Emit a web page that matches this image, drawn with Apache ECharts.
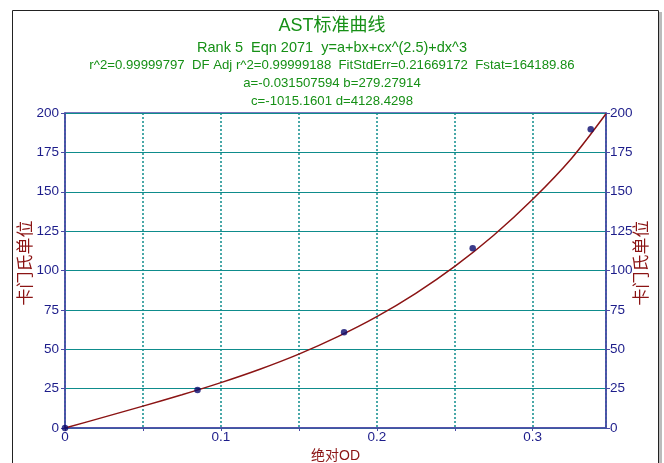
<!DOCTYPE html>
<html><head><meta charset="utf-8">
<script src="https://cdn.jsdelivr.net/npm/echarts@6/dist/echarts.min.js"></script>
<style>html,body{margin:0;padding:0;background:#fff}#c{width:664px;height:463px}</style>
</head><body><div id="c"></div>
<script>
// Measured standard points (absolute OD, Karmen units)
const pointX = [0, 0.085, 0.179, 0.2615, 0.3372];
const pointY = [0, 24.1, 60.8, 114.1, 189.7];
// Fitted curve
const curveX = [0, 0.025, 0.05, 0.075, 0.1, 0.125, 0.15, 0.175, 0.2, 0.225, 0.25, 0.275, 0.3, 0.325, 0.347];
const curveY = [0, 6.9, 13.9, 21.1, 28.8, 37.3, 46.9, 58.0, 70.7, 85.5, 102.6, 122.4, 145.2, 171.3, 199.5];
const titleLines = [
  'AST标准曲线',
  'Rank 5  Eqn 2071  y=a+bx+cx^(2.5)+dx^3',
  'r^2=0.99999797  DF Adj r^2=0.99999188  FitStdErr=0.21669172  Fstat=164189.86',
  'a=-0.031507594 b=279.27914',
  'c=-1015.1601 d=4128.4298'
];
const xTickLabels = ['0', '0.1', '0.2', '0.3'];
const yTicks = [0, 25, 50, 75, 100, 125, 150, 175, 200];
const xName = '绝对OD';
const yName = '卡门氏单位';

const FF = '"Liberation Sans", Arial, "Noto Sans CJK SC", sans-serif';
const green = '#169016';
const navy = '#1c1c8a';
const axisCol = '#4a4aa6';
const red = '#8b1414';
const teal = '#0e8c8c';

const chart = echarts.init(document.getElementById('c'));
const titleSizes = [18, 14.5, 13.2, 13.2, 13.2];
const titleCenters = [26, 48, 65.3, 83.7, 101.2];
const yAxisCommon = {
  type: 'value', min: 0, max: 200, interval: 25,
  axisLine: {show: true, lineStyle: {color: axisCol, width: 1.5}},
  axisTick: {show: true, length: 4, lineStyle: {color: axisCol}},
};
const yNameStyle = {text: yName, fill: red, fontSize: 17, fontFamily: FF, align: 'center', verticalAlign: 'middle'};
chart.setOption({
  animation: false,
  title: titleLines.map((t, i) => ({
    text: t, left: 'center', top: titleCenters[i] - titleSizes[i] * 0.49, padding: 0,
    textStyle: {color: green, fontSize: titleSizes[i], fontWeight: 'normal', fontFamily: FF}
  })),
  graphic: [
    {type: 'rect', shape: {x: 12.5, y: 10.5, width: 646, height: 470}, style: {fill: null, stroke: '#222', lineWidth: 1}, z: -1},
    {type: 'rect', shape: {x: 659, y: 12, width: 3, height: 470}, style: {fill: '#bbb'}, z: -1},
    {type: 'text', x: 26, y: 263, rotation: Math.PI / 2, style: yNameStyle},
    {type: 'text', x: 642, y: 263, rotation: Math.PI / 2, style: yNameStyle}
  ],
  grid: {left: 65, right: 58, top: 113, bottom: 35, containLabel: false, outerBoundsMode: 'none',
    show: true, borderColor: axisCol, borderWidth: 1.5, backgroundColor: 'transparent'},
  xAxis: {
    type: 'value', min: 0, max: 0.347, interval: 0.05,
    name: xName, nameLocation: 'middle', nameGap: 21,
    nameTextStyle: {color: red, fontSize: 14, fontFamily: FF},
    axisLine: {show: true, onZero: false, lineStyle: {color: axisCol, width: 1.5}},
    axisTick: {show: true, length: 3, lineStyle: {color: axisCol}},
    axisLabel: {color: navy, fontSize: 13.5, fontFamily: FF, margin: 3, showMaxLabel: false,
      formatter: v => { const k = Math.round(v / 0.05); return k % 2 === 0 ? xTickLabels[k / 2] : ''; }},
    splitLine: {show: true, lineStyle: {color: teal, type: [2, 2], width: 1.5}}
  },
  yAxis: [
    Object.assign({}, yAxisCommon, {position: 'left',
      axisLabel: {color: navy, fontSize: 13.5, fontFamily: FF, margin: 6},
      splitLine: {show: true, lineStyle: {color: teal, width: 1.2}}}),
    Object.assign({}, yAxisCommon, {position: 'right', splitLine: {show: false},
      axisLabel: {color: navy, fontSize: 13.5, fontFamily: FF, margin: 4}})
  ],
  series: [
    {type: 'line', data: curveX.map((x, i) => [x, curveY[i]]), smooth: 0.3, showSymbol: false,
      lineStyle: {color: red, width: 1.5}, z: 3},
    {type: 'scatter', data: pointX.map((x, i) => [x, pointY[i]]), symbolSize: 6.5,
      itemStyle: {color: '#0a0a6e'}, z: 4}
  ]
});
</script></body></html>
